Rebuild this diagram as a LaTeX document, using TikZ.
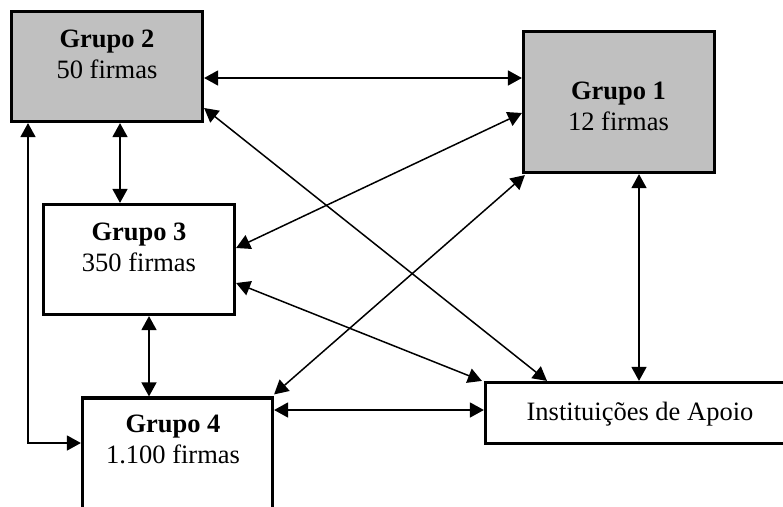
\documentclass[tikz,border=0pt]{standalone}
\usepackage{fontspec}
\setmainfont{Liberation Serif}
\usetikzlibrary{arrows.meta}
\begin{document}
\begin{tikzpicture}[x=1pt, y=-1pt,
    box/.style={draw, line width=3.2pt, inner sep=0pt},
    txt/.style={align=center, inner sep=0pt, font=\fontsize{26.5}{30.5}\selectfont},
    link/.style={{Triangle[length=14pt,width=15pt]}-{Triangle[length=14pt,width=15pt]}, line width=1.5pt}]
    \path[use as bounding box, clip] (0,0) rectangle (783,506);
    % groups of firms, the larger ones shaded
    \node[box, fill={rgb,255:red,192;green,192;blue,192}, minimum width=191pt, minimum height=110pt] (g2) at (107,66.5) {};
    \node[box, fill={rgb,255:red,192;green,192;blue,192}, minimum width=191pt, minimum height=141pt] (g1) at (619,102) {};
    \node[box, minimum width=191pt, minimum height=110pt] (g3) at (139,259.5) {};
    \node[box, minimum width=190pt, minimum height=115pt] (g4) at (177.5,455.5) {};
    \node[box, minimum width=309pt, minimum height=61pt] (inst) at (640,413) {};
    % texts
    \node[txt, anchor=north] (t2) at (107,30) {\textbf{Grupo 2}\\50 firmas};
    \node[txt, anchor=north] (t1) at (618.5,82) {\textbf{Grupo 1}\\12 firmas};
    \node[txt, anchor=north] (t3) at (139,223) {\textbf{Grupo 3}\\350 firmas};
    \node[txt, anchor=north] (t4) at (173,415) {\textbf{Grupo 4}\\1.100 firmas};
    \node[txt, anchor=base] (ti) at (640,420) {Instituições de Apoio};
    % links between groups
    \draw[link] ([yshift=-11.5pt]g2.east) -- ([yshift=24pt]g1.west);
    \draw[link] ([yshift=-41.5pt]g2.east) -- ([xshift=-93pt]inst.north);
    \draw[link] ([xshift=13pt]g2.south) -- ([xshift=-19pt]g3.north);
    \draw[link] ([xshift=-79pt]g2.south) |- ([yshift=12.5pt]g4.west);
    \draw[link] ([yshift=-11pt]g1.west) -- ([yshift=11.5pt]g3.east);
    \draw[link] ([xshift=3pt,yshift=-1pt]g1.south west) -- ([yshift=2pt]g4.north east);
    \draw[link] ([xshift=20pt]g1.south) -- ([xshift=-1pt]inst.north);
    \draw[link] ([yshift=-23.5pt]g3.east) -- ([xshift=-2pt]inst.north west);
    \draw[link] ([xshift=10pt]g3.south) -- ([xshift=-28.5pt]g4.north);
    \draw[link] ([yshift=45.5pt]g4.east) -- ([yshift=3pt]inst.west);
\end{tikzpicture}
\end{document}
